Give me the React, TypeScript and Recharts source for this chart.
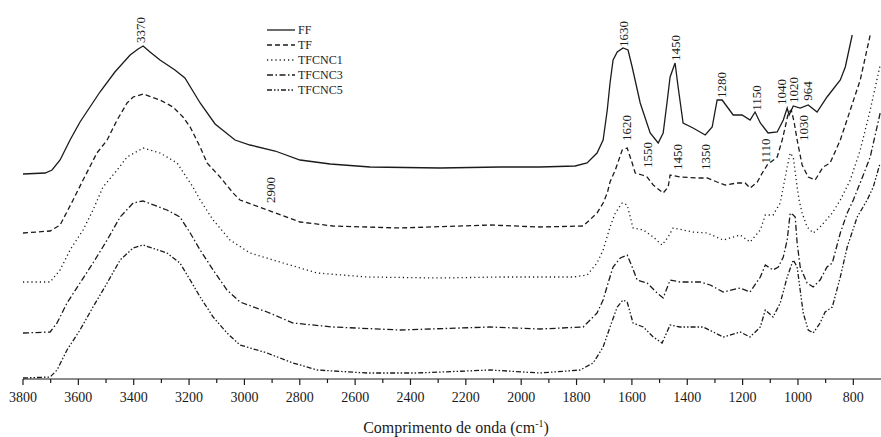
import { LineChart, Line, XAxis, YAxis, ReferenceDot, Legend } from 'recharts'

// wavenumber (cm-1), absorbance (a.u., curves already offset)
const ff = [
  [3800, 205], [3720, 206], [3695, 209], [3666, 219], [3630, 239], [3594, 257], [3522, 287], [3468, 307],
  [3413, 324], [3384, 330], [3366, 333], [3341, 327], [3305, 319], [3251, 309], [3215, 301], [3160, 276],
  [3106, 255], [3034, 239], [2980, 234], [2889, 228], [2799, 219], [2690, 215], [2546, 212], [2293, 211],
  [2076, 212], [1932, 212], [1805, 213], [1762, 216], [1726, 226], [1704, 239], [1689, 269], [1679, 296],
  [1668, 319], [1653, 327], [1632, 331], [1614, 329], [1599, 312], [1570, 276], [1534, 246], [1505, 236],
  [1487, 246], [1472, 279], [1462, 302], [1444, 316], [1433, 292], [1415, 256], [1379, 251], [1335, 244],
  [1310, 252], [1292, 279], [1274, 279], [1234, 264], [1202, 264], [1173, 259], [1155, 267], [1136, 256],
  [1108, 246], [1075, 247], [1053, 259], [1039, 271], [1032, 264], [1017, 273], [992, 271], [963, 274],
  [931, 267], [895, 282], [847, 299], [829, 312], [804, 344],
]

const tf = [
  [3800, 146], [3702, 148], [3666, 154], [3619, 179], [3583, 199], [3533, 226], [3496, 239], [3460, 259],
  [3424, 276], [3402, 282], [3366, 285], [3305, 279], [3258, 272], [3222, 262], [3196, 252], [3160, 232],
  [3135, 216], [3088, 202], [3041, 186], [3016, 179], [2918, 169], [2799, 157], [2680, 153], [2437, 151],
  [2112, 154], [1932, 152], [1776, 153], [1726, 166], [1704, 176], [1689, 186], [1679, 197], [1660, 209],
  [1635, 229], [1617, 231], [1599, 216], [1588, 206], [1563, 204], [1545, 202], [1523, 194], [1487, 186],
  [1469, 192], [1462, 204], [1426, 202], [1364, 201], [1328, 201], [1292, 197], [1263, 194], [1220, 196],
  [1191, 196], [1173, 191], [1147, 197], [1129, 206], [1111, 214], [1075, 222], [1057, 239], [1046, 252],
  [1035, 266], [1024, 269], [1014, 257], [1003, 239], [985, 214], [963, 202], [938, 199], [909, 212],
  [884, 216], [847, 239], [811, 269], [775, 299], [739, 344],
]

const tfcnc1 = [
  [3800, 97], [3702, 97], [3666, 109], [3630, 129], [3583, 149], [3547, 169], [3511, 192], [3460, 209],
  [3424, 222], [3366, 231], [3305, 226], [3243, 216], [3186, 192], [3160, 179], [3113, 159], [3052, 139],
  [2980, 126], [2860, 116], [2737, 106], [2557, 102], [2293, 101], [2076, 102], [1812, 102], [1762, 104],
  [1726, 116], [1704, 129], [1679, 152], [1660, 166], [1635, 176], [1617, 174], [1596, 151], [1559, 149],
  [1523, 142], [1491, 134], [1469, 142], [1451, 151], [1379, 147], [1328, 146], [1270, 139], [1209, 144],
  [1173, 137], [1136, 149], [1118, 164], [1090, 164], [1064, 176], [1053, 192], [1039, 212], [1028, 226],
  [1017, 222], [1003, 192], [996, 179], [985, 166], [967, 152], [945, 146], [920, 152], [876, 166],
  [847, 179], [811, 199], [775, 229], [739, 269], [703, 314],
]

const tfcnc3 = [
  [3800, 46], [3702, 47], [3677, 56], [3641, 76], [3594, 96], [3547, 116], [3496, 139], [3449, 162],
  [3402, 176], [3366, 178], [3280, 169], [3233, 162], [3196, 146], [3160, 129], [3113, 109], [3063, 89],
  [3016, 77], [2918, 67], [2824, 56], [2680, 52], [2437, 49], [2112, 52], [1932, 50], [1776, 52],
  [1726, 66], [1704, 79], [1686, 96], [1668, 112], [1642, 121], [1617, 124], [1599, 112], [1581, 99],
  [1545, 96], [1509, 86], [1487, 81], [1462, 99], [1426, 97], [1353, 97], [1317, 94], [1270, 87],
  [1209, 91], [1173, 87], [1136, 102], [1118, 114], [1090, 109], [1071, 112], [1053, 122], [1039, 139],
  [1028, 166], [1017, 164], [1010, 162], [1003, 136], [992, 112], [967, 96], [945, 92], [920, 99],
  [895, 112], [876, 116], [847, 146], [822, 166], [800, 179], [764, 204], [739, 222], [703, 266],
]

const tfcnc5 = [
  [3800, 1], [3702, 2], [3677, 9], [3641, 29], [3594, 49], [3547, 72], [3496, 96], [3449, 119],
  [3402, 131], [3366, 134], [3280, 126], [3233, 116], [3196, 99], [3160, 82], [3113, 62], [3063, 46],
  [3016, 34], [2918, 26], [2824, 16], [2737, 9], [2557, 6], [2376, 6], [2112, 9], [1932, 6],
  [1787, 9], [1740, 16], [1704, 32], [1679, 52], [1653, 72], [1632, 79], [1617, 77], [1596, 56],
  [1559, 52], [1523, 42], [1491, 36], [1462, 54], [1426, 52], [1342, 52], [1270, 42], [1209, 47],
  [1173, 42], [1136, 52], [1118, 69], [1090, 62], [1064, 76], [1039, 102], [1017, 119], [1003, 112],
  [992, 89], [981, 66], [963, 49], [945, 46], [920, 56], [902, 67], [876, 72], [847, 102],
  [822, 132], [786, 162], [750, 179], [728, 192], [703, 216],
]

const seriesNames = ['FF', 'TF', 'TFCNC1', 'TFCNC3', 'TFCNC5']
const seriesData = [ff, tf, tfcnc1, tfcnc3, tfcnc5]
const dashes = ['', '5 3', '1.2 3', '6 2.5 1.5 2.5', '5 2 1.5 2 1.5 2']

// band labels: text, wavenumber, height
const bandLabels: [string, number, number][] = [
  ['3370', 3374, 349], ['2900', 2907, 189],
  ['1630', 1632, 345], ['1450', 1444, 331], ['1280', 1277, 294], ['1150', 1151, 281],
  ['1040', 1061, 287], ['1020', 1017, 289], ['964', 967, 288],
  ['1620', 1621, 251], ['1550', 1545, 224], ['1450', 1436, 222], ['1350', 1335, 222],
  ['1110', 1118, 228], ['1030', 981, 251],
]

const xTicks: number[] = []
for (let t = 800; t <= 3800; t += 100) xTicks.push(t)

const FONT = '"Liberation Serif", "Times New Roman", serif'
const INK = '#1b1b1b'

const toRows = (pts: number[][]) => pts.map(([wn, a]) => ({ wn, a }))

function AxisTick(props: any) {
  const { x, y, payload } = props
  const major = payload.value % 200 === 0
  return (
    <g>
      <line x1={x} x2={x} y1={y} y2={y + (major ? 6 : 4)} stroke={INK} strokeWidth={1.2} />
      {major && (
        <text x={x} y={y + 23} textAnchor="middle" fontSize={14} fontFamily={FONT} fill={INK}>
          {payload.value}
        </text>
      )}
    </g>
  )
}

function AxisTitle(props: any) {
  const { viewBox } = props
  const cx = viewBox.x + viewBox.width / 2 + 4
  return (
    <text x={cx} y={viewBox.y + 54} textAnchor="middle" fontSize={16} fontFamily={FONT} fill={INK}>
      <tspan>Comprimento de onda (cm</tspan>
      <tspan dy={-6} fontSize={10}>-1</tspan>
      <tspan dy={6}>)</tspan>
    </text>
  )
}

function LegendBox() {
  return (
    <svg width={90} height={80} style={{ display: 'block' }}>
      {seriesNames.map((name, i) => (
        <g key={name}>
          <line x1={0} x2={28} y1={8 + i * 15} y2={8 + i * 15} stroke={INK} strokeWidth={1.3}
            strokeDasharray={dashes[i] || undefined} />
          <text x={31} y={12 + i * 15} fontSize={12} fontFamily={FONT} fill={INK}>{name}</text>
        </g>
      ))}
    </svg>
  )
}

export default function App() {
  return (
    <div style={{ position: 'absolute', left: 0, top: 0, background: '#fff' }}>
      <LineChart width={881} height={437} margin={{ top: 9, right: 0, left: 23, bottom: 0 }}>
        <XAxis
          type="number"
          dataKey="wn"
          domain={[700, 3800]}
          reversed
          ticks={xTicks}
          interval={0}
          allowDataOverflow
          height={58}
          tickSize={0}
          tickMargin={0}
          tickLine={false}
          axisLine={{ stroke: INK, strokeWidth: 1.2 }}
          tick={<AxisTick />}
          label={<AxisTitle />}
        />
        <YAxis type="number" domain={[0, 370]} hide allowDataOverflow />
        <Legend
          layout="vertical"
          align="center"
          verticalAlign="middle"
          content={() => <LegendBox />}
          wrapperStyle={{ position: 'absolute', left: 267, top: 22, width: 90, height: 80 }}
        />
        {seriesNames.map((name, i) => (
          <Line
            key={name}
            name={name}
            data={toRows(seriesData[i])}
            dataKey="a"
            type="linear"
            stroke={INK}
            strokeWidth={1.3}
            strokeDasharray={dashes[i] || undefined}
            dot={false}
            activeDot={false}
            isAnimationActive={false}
          />
        ))}
        {bandLabels.map(([txt, wn, h], i) => (
          <ReferenceDot
            key={i}
            x={wn}
            y={h}
            r={0}
            ifOverflow="visible"
            shape={(p: any) => (
              <text
                x={p.cx}
                y={p.cy}
                transform={`rotate(-90 ${p.cx} ${p.cy})`}
                textAnchor="middle"
                dominantBaseline="central"
                fontSize={13}
                fontFamily={FONT}
                fill={INK}
              >
                {txt}
              </text>
            )}
          />
        ))}
      </LineChart>
    </div>
  )
}
